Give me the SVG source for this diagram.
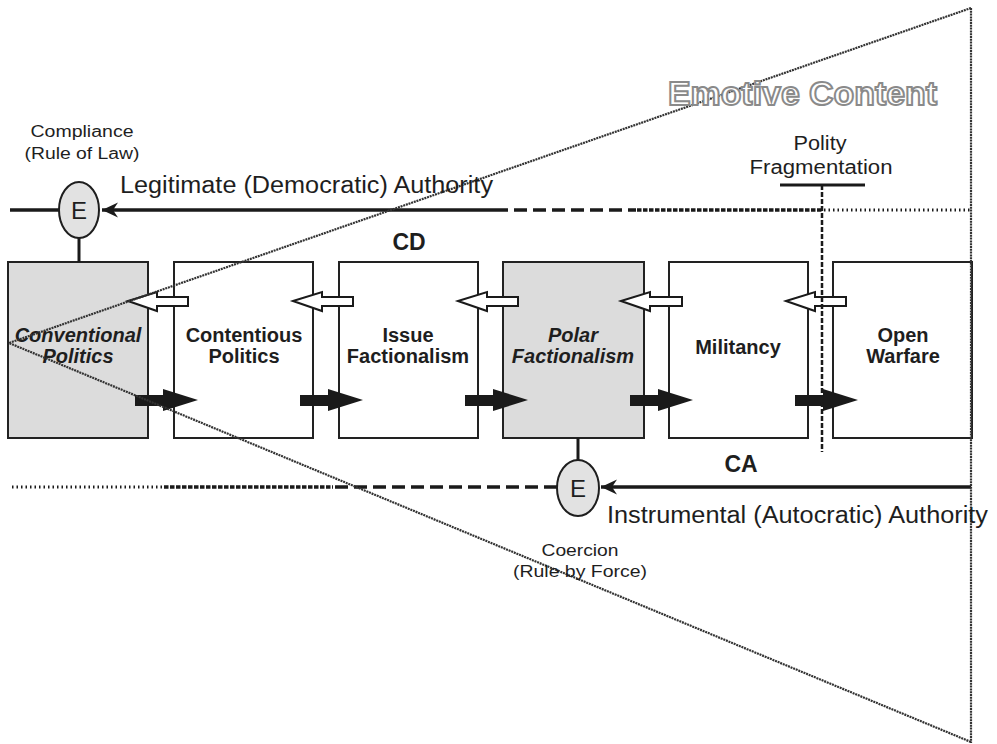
<svg xmlns="http://www.w3.org/2000/svg" width="997" height="744" viewBox="0 0 997 744">
<defs>
<style>
text{font-family:"Liberation Sans",Arial,sans-serif;fill:#1e1e1e}
.box{stroke:#222;stroke-width:2}
.gray{fill:#dcdcdc}
.white{fill:#fff}
.bt{font-size:20px;font-weight:bold;text-anchor:middle}
.it{font-style:italic}
.lbl{font-size:16px;text-anchor:middle}
.big{font-size:23px}
.code{font-size:23px;font-weight:bold;text-anchor:middle}
.ell{fill:#e2e2e2;stroke:#1e1e1e;stroke-width:2}
.et{font-size:24px;text-anchor:middle}
.solid{stroke:#1a1a1a;stroke-width:3.5;fill:none}
.bigdash{stroke:#1a1a1a;stroke-width:3.5;stroke-dasharray:13 6;fill:none}
.smalldash{stroke:#1a1a1a;stroke-width:3.5;stroke-dasharray:4.5 1.5;fill:none}
.dot{stroke:#1a1a1a;stroke-width:3;stroke-dasharray:1.5 3;fill:none}
.tri{stroke:#333;stroke-width:2.2;stroke-dasharray:2 0.8;fill:none}
.harrow{fill:#fff;stroke:#1a1a1a;stroke-width:2}
.farrow{fill:#1a1a1a;stroke:none}
</style>
<marker id="ahr" markerUnits="userSpaceOnUse" markerWidth="24" markerHeight="20" viewBox="-18 -10 20 20" refX="0" refY="0" orient="auto">
<path d="M0,0 L-16,-7.5 L-11,0 L-16,7.5 Z" fill="#1a1a1a"/>
</marker>
</defs>
<rect width="997" height="744" fill="#fff"/>

<g id="boxes">
<g id="n-conventional"><rect class="box gray" x="8" y="262" width="140" height="176"/><text class="bt it" x="78" y="342">Conventional</text><text class="bt it" x="78" y="363">Politics</text></g>
<g id="n-contentious"><rect class="box white" x="174" y="262" width="139" height="176"/><text class="bt" x="244" y="342">Contentious</text><text class="bt" x="244" y="363">Politics</text></g>
<g id="n-issue"><rect class="box white" x="339" y="262" width="139" height="176"/><text class="bt" x="408" y="342">Issue</text><text class="bt" x="408" y="363">Factionalism</text></g>
<g id="n-polar"><rect class="box gray" x="503" y="262" width="141" height="176"/><text class="bt it" x="573" y="342">Polar</text><text class="bt it" x="573" y="363">Factionalism</text></g>
<g id="n-militancy"><rect class="box white" x="669" y="262" width="139" height="176"/><text class="bt" x="738" y="354">Militancy</text></g>
<g id="n-warfare"><rect class="box white" x="833" y="262" width="139" height="176"/><text class="bt" x="903" y="342">Open</text><text class="bt" x="903" y="363">Warfare</text></g>
</g>

<g id="connectors">
<line class="solid" x1="10" y1="210" x2="59" y2="210"/>
<line class="solid" x1="495" y1="210" x2="102" y2="210" marker-end="url(#ahr)"/>
<line class="bigdash" x1="495" y1="210" x2="636" y2="210"/>
<line class="smalldash" x1="637" y1="210" x2="822" y2="210"/>
<line class="dot" x1="824" y1="210" x2="971" y2="210"/>
<line class="solid" x1="79" y1="238" x2="79" y2="262" style="stroke-width:3"/>
<line class="solid" x1="971" y1="487" x2="601" y2="487" marker-end="url(#ahr)"/>
<line class="bigdash" x1="335" y1="487" x2="557" y2="487"/>
<line class="smalldash" x1="164" y1="487" x2="333" y2="487"/>
<line class="dot" x1="12" y1="487" x2="162" y2="487"/>
<line class="solid" x1="578" y1="438" x2="578" y2="460" style="stroke-width:3"/>
<polygon class="harrow" points="128,301 157,292 157,297 188,297 188,306 157,306 157,311"/>
<polygon class="harrow" points="293,301 322,292 322,297 353,297 353,306 322,306 322,311"/>
<polygon class="harrow" points="458,301 487,292 487,297 518,297 518,306 487,306 487,311"/>
<polygon class="harrow" points="621,301 650,292 650,297 682,297 682,306 650,306 650,311"/>
<polygon class="harrow" points="786,301 815,292 815,297 846,297 846,306 815,306 815,311"/>
<polygon class="farrow" points="135,395 163,395 163,389 198,400 163,411 163,406 135,406"/>
<polygon class="farrow" points="300,395 328,395 328,389 363,400 328,411 328,406 300,406"/>
<polygon class="farrow" points="465,395 493,395 493,389 528,400 493,411 493,406 465,406"/>
<polygon class="farrow" points="630,395 658,395 658,389 693,400 658,411 658,406 630,406"/>
<polygon class="farrow" points="795,395 823,395 823,389 858,400 823,411 823,406 795,406"/>
<line class="solid" x1="780" y1="185" x2="865" y2="185" style="stroke-width:3"/>
<line x1="822" y1="185" x2="822" y2="452" stroke="#1a1a1a" stroke-width="2.5" stroke-dasharray="5 2"/>
</g>

<g id="emotive-wedge">
<polyline class="tri" points="971,8 9,343 971,742"/>
<line class="tri" x1="971" y1="8" x2="971" y2="743"/>
<text x="668" y="105" font-size="34" font-weight="bold" textLength="269" lengthAdjust="spacingAndGlyphs" style="fill:#fff;stroke:#8a8a8a;stroke-width:2">Emotive Content</text>
</g>

<g id="n-enforce-top">
<ellipse class="ell" cx="79" cy="210" rx="20" ry="28"/>
<text class="et" x="79" y="219">E</text>
</g>
<g id="n-enforce-bottom">
<ellipse class="ell" cx="578" cy="488" rx="21" ry="28"/>
<text class="et" x="578" y="497">E</text>
</g>

<g id="labels">
<text class="lbl" x="82" y="137" textLength="103" lengthAdjust="spacingAndGlyphs">Compliance</text>
<text class="lbl" x="82" y="159" textLength="115" lengthAdjust="spacingAndGlyphs">(Rule of Law)</text>
<text class="big" x="120" y="193" textLength="373" lengthAdjust="spacingAndGlyphs">Legitimate (Democratic) Authority</text>
<text class="code" x="409" y="250">CD</text>
<text class="code" x="741" y="472">CA</text>
<text class="big" x="607" y="523" textLength="381" lengthAdjust="spacingAndGlyphs">Instrumental (Autocratic) Authority</text>
<text class="lbl" x="580" y="556" textLength="77" lengthAdjust="spacingAndGlyphs">Coercion</text>
<text class="lbl" x="580" y="577" textLength="134" lengthAdjust="spacingAndGlyphs">(Rule by Force)</text>
<text x="820" y="150" font-size="20" text-anchor="middle" textLength="53" lengthAdjust="spacingAndGlyphs">Polity</text>
<text x="821" y="174" font-size="20" text-anchor="middle" textLength="143" lengthAdjust="spacingAndGlyphs">Fragmentation</text>
</g>
</svg>
